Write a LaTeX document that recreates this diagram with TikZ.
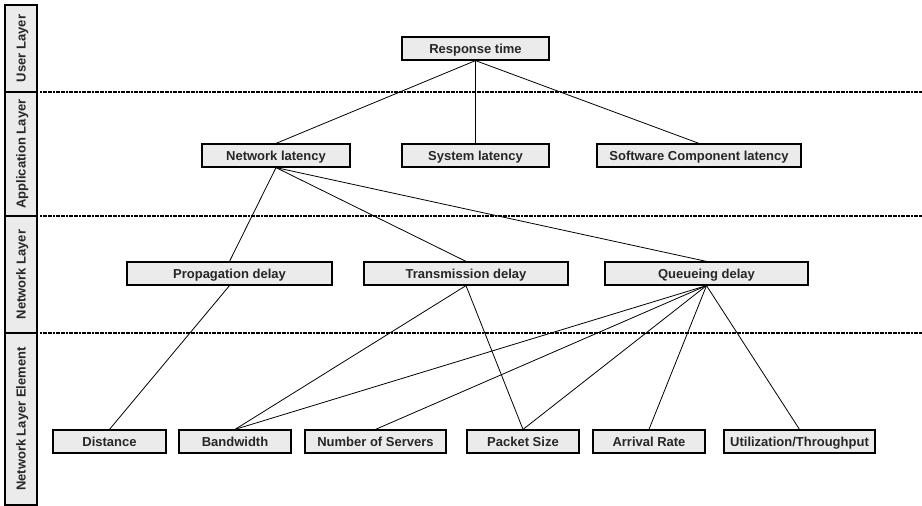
\documentclass[tikz,border=0pt]{standalone}
\usepackage{fontspec}
\setmainfont{Liberation Sans}
\begin{document}
\begin{tikzpicture}[x=1pt,y=-1pt,
  box/.style={draw=black,line width=1.2pt,fill=boxgray,inner sep=0pt,minimum height=23pt,text height=9.2pt,text depth=0pt,font=\fontsize{13}{15}\selectfont\bfseries,text=black!85},
  layerbox/.style={draw=black,line width=1.2pt,fill=boxgray,inner sep=0pt,rotate=90,minimum height=32pt,text height=9.2pt,text depth=0pt,font=\fontsize{13}{15}\selectfont\bfseries,text=black!85},
  sep/.style={line width=1.8pt,dash pattern=on 2pt off 0.6pt,black},
  link/.style={line width=0.8pt,black}]
\definecolor{boxgray}{HTML}{EBEBEB}
\useasboundingbox (0,0) rectangle (922,506);
% layer labels
\node[layerbox,minimum width=87pt] (user) at (21,48.5) {User Layer};
\node[layerbox,minimum width=124pt] (app) at (21,154) {Application Layer};
\node[layerbox,minimum width=117pt] (net) at (21,274.5) {Network Layer};
\node[layerbox,minimum width=172pt] (elem) at (21,419) {Network Layer Element};
% separators
\coordinate (s1a) at (40,92); \coordinate (s1b) at (922,92);
\coordinate (s2a) at (40,216); \coordinate (s2b) at (922,216);
\coordinate (s3a) at (40,333); \coordinate (s3b) at (922,333);
\draw[sep] (s1a) -- (s1b);
\draw[sep] (s2a) -- (s2b);
\draw[sep] (s3a) -- (s3b);
% boxes
\node[box,minimum width=147pt] (rt) at (475.5,48.5) {Response time};
\node[box,minimum width=148pt] (nl) at (276,155.5) {Network latency};
\node[box,minimum width=147pt] (sl) at (475.5,155.5) {System latency};
\node[box,minimum width=204pt] (sc) at (699,155.5) {Software Component latency};
\node[box,minimum width=205pt] (pd) at (229.5,273.5) {Propagation delay};
\node[box,minimum width=204pt] (td) at (466,273.5) {Transmission delay};
\node[box,minimum width=203pt] (qd) at (706.5,273.5) {Queueing delay};
\node[box,minimum width=113pt] (di) at (109.5,441.5) {Distance};
\node[box,minimum width=112pt] (bw) at (235,441.5) {Bandwidth};
\node[box,minimum width=141pt] (ns) at (375.5,441.5) {Number of Servers};
\node[box,minimum width=112pt] (ps) at (523,441.5) {Packet Size};
\node[box,minimum width=112pt] (ar) at (649,441.5) {Arrival Rate};
\node[box,minimum width=151pt] (ut) at (799.5,441.5) {Utilization/Throughput};
% links
\draw[link] (rt.south) -- (nl.north);
\draw[link] (rt.south) -- (sl.north);
\draw[link] (rt.south) -- (sc.north);
\draw[link] (nl.south) -- (pd.north);
\draw[link] (nl.south) -- (td.north);
\draw[link] (nl.south) -- (qd.north);
\draw[link] (pd.south) -- (di.north);
\draw[link] (td.south) -- (bw.north);
\draw[link] (td.south) -- (ps.north);
\draw[link] (qd.south) -- (bw.north);
\draw[link] (qd.south) -- (ns.north);
\draw[link] (qd.south) -- (ps.north);
\draw[link] (qd.south) -- (ar.north);
\draw[link] (qd.south) -- (ut.north);
\end{tikzpicture}
\end{document}
